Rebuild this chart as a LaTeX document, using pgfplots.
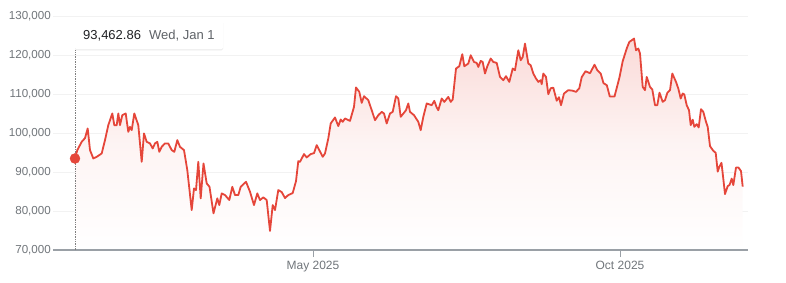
\documentclass[border=0pt]{standalone}
\usepackage{fontspec}
\setmainfont{Liberation Sans}
\usepackage{pgfplots}
\pgfplotsset{compat=1.18}
\usepackage{pgfplotstable}
\usetikzlibrary{shadows}
\definecolor{lred}{HTML}{E5463A}
\definecolor{tgray}{HTML}{70757A}
\definecolor{agray}{HTML}{9AA0A6}
\definecolor{ggray}{HTML}{F2F2F2}
\definecolor{ttxt}{HTML}{202124}
\definecolor{tsub}{HTML}{5F6368}

\pgfplotstableread{
d p
0 93463
1.15 95610
3.35 97740
5 98680
6.35 101170
7.5 95610
9.15 93480
10.85 93890
13.35 94760
15 98170
16.65 102010
18.65 105010
19.65 102010
20.85 102010
21.65 105010
22.5 102010
23.65 104570
25.35 105010
26.65 100300
27.5 101580
28.35 100730
29.65 105010
31.65 102010
33.35 92610
34.5 99890
35.85 97740
37.5 97330
38.85 96050
40 97330
41.15 97740
42.15 95170
43.35 96460
45 97330
46.65 97330
48.35 95610
49.65 95170
51.15 98170
52.5 96460
54.5 95610
56.15 90490
58.35 80240
59.5 85800
60.5 85370
61.65 92610
62.85 83240
64.25 92200
65.85 87080
67.25 86210
69.25 79400
71.15 83240
72.15 81520
73.35 84520
75 84090
77.15 82810
78.65 86210
80 84090
81.65 84090
82.85 86210
85.5 87490
87.5 84930
89.5 81520
91.15 84520
92.5 82810
94.15 83500
95.85 82810
97.5 74870
98.85 81520
100 80240
101.65 85370
103.35 84850
105 83320
106.65 84090
108.85 84600
110.5 87670
111.65 92790
112.5 92610
114.5 94590
115.85 93740
117.85 94590
119.5 94840
120.85 96890
122.15 95610
123.85 93890
125 94760
126.65 98610
127.85 102450
130 103980
131.65 101760
132.85 103470
133.85 102860
135 103730
137.5 103110
139.5 106700
140.5 111670
142.15 110540
143.35 107720
144.5 109440
146.65 108420
148.35 105850
150 103290
151.65 104570
153.35 105420
154.5 105010
155.85 102450
157.5 105010
158.85 105420
160.5 109440
161.65 108850
162.85 104140
165.5 105850
166.65 107570
167.5 105420
169.5 104570
171.65 102860
172.85 100730
174.15 104140
175.85 107570
178.35 107130
179.65 108240
180.85 106550
181.65 105850
183.35 108850
184.65 107980
186.65 109260
187.85 107980
188.85 108590
190.5 116530
192.15 117120
193.65 120200
194.65 117120
196.65 117810
197.85 119940
199.5 118220
200.85 117970
201.65 116940
202.85 118480
203.85 118220
205 115250
206.15 117120
207.85 119090
209.15 118220
210.85 117970
212.5 114380
214.15 113540
215.5 114560
217.15 113100
218.85 116530
220 116100
221.65 121220
222.85 118660
223.85 119500
225 122940
226.65 117810
227.85 117380
229.15 115250
230.5 113970
231.65 113100
232.85 113540
233.35 112510
234.15 115250
235.5 114380
236.65 109950
237.85 111490
239.15 111620
240.85 108290
242 109180
243 107130
244.5 110130
246.65 110980
248.85 110850
250.5 110540
252.15 111490
253.35 114310
255.25 115840
257.5 115330
259.75 117510
261.15 116100
262.85 115250
264.25 112770
265.9 112260
267.4 109360
269.75 109360
271 111820
272.25 114310
273.85 118400
275.85 121660
277.15 123350
278.85 123960
279.5 124220
280.5 121220
281.65 121660
282.5 120370
283.85 111820
285 110980
285.85 114380
287.5 111820
288.65 111160
290 107130
291.15 107130
292.25 110340
293.85 107980
295 108420
296.15 110280
297.5 110980
298.65 115250
300.5 113100
301.65 111410
302.85 108850
303.85 110130
304.65 109870
305.85 107130
307 105850
307.85 102010
308.85 103420
309.65 101580
310.85 102270
311.85 101420
313 106110
314.15 105420
315.5 102860
316.35 101580
317.5 96630
319.15 95430
320.35 94920
321.35 90100
322.15 91330
323.25 92360
325 84340
326.35 86390
327.25 86650
328.35 88310
329.15 86650
330.5 91130
331.75 91130
333 90230
333.85 86260
}\btc

\begin{document}
\begin{tikzpicture}
\begin{axis}[
  at={(0,0)}, anchor=south west,
  scale only axis, width=695pt, height=234pt,
  xmin=-11, xmax=336.5, ymin=70000, ymax=130000,
  axis line style={draw=none},
  ytick={70000,80000,90000,100000,110000,120000,130000},
  ymajorgrids, grid style={draw=ggray, line width=0.8pt},
  xtick={119,272.5}, xticklabels={May 2025,Oct 2025},
  tick pos=left, tick align=outside, major tick length=7pt,
  xtick style={draw=agray, line width=1pt},
  ytick style={draw=none},
  scaled y ticks=false,
  yticklabel style={/pgf/number format/.cd, fixed, 1000 sep={,}, assume math mode=true, /tikz/.cd,
    font=\fontsize{11.6}{12}\selectfont, text=tgray, inner sep=0pt, anchor=east, xshift=5pt},
  xticklabel style={font=\fontsize{12}{13}\selectfont, text=tgray, inner sep=0pt, anchor=base, yshift=-12pt},
  clip=false,
]
\addplot[draw=none, top color=lred!20!white, bottom color=white, middle color=lred!6!white]
  table[x=d, y=p] {\btc} -- (axis cs:333.85,70000) -- (axis cs:0,70000) -- cycle;
\draw[agray, line width=1.5pt] (rel axis cs:0,0) -- (rel axis cs:1,0);
\addplot[densely dotted, color=gray, line width=0.7pt] coordinates {(0,70000) (0,121300)};
\addplot[lred, line width=1.8pt, line join=round, mark=none] table[x=d, y=p] {\btc};
\addplot[only marks, mark=*, mark size=5pt, color=lred] coordinates {(0,93462.86)};
\end{axis}
\fill[white, rounded corners=1.5pt, drop shadow={opacity=0.18, shadow xshift=0pt, shadow yshift=-1pt}] (22pt,200.7pt) rectangle (170pt,229.3pt);
\node[anchor=base west, inner sep=0pt, text=ttxt, font=\fontsize{13}{14}\selectfont] at (30pt,210.7pt) {93,462.86};
\node[anchor=base west, inner sep=0pt, text=tsub, font=\fontsize{13}{14}\selectfont] at (96pt,210.7pt) {Wed, Jan 1};
\pgfresetboundingbox
\path[use as bounding box] (-53pt,-32pt) rectangle (733pt,250pt);
\end{tikzpicture}
\end{document}
